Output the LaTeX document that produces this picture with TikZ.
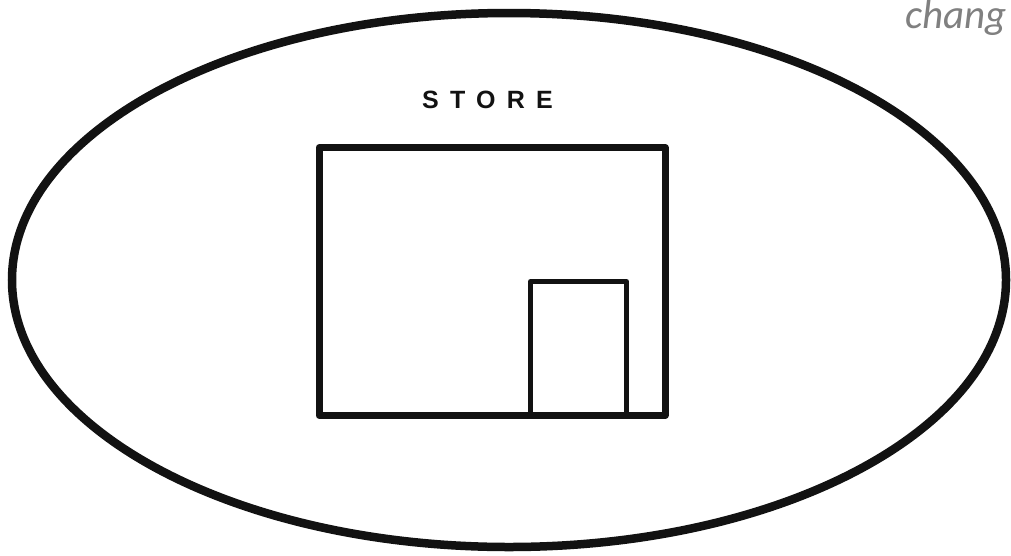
\documentclass[tikz,border=0pt]{standalone}
\usepackage{fontspec}
\setmainfont{Liberation Sans}
\newfontfamily\carlito{Carlito}
\begin{document}
\begin{tikzpicture}[x=1pt,y=-1pt,
  outline/.style={draw=black!93,line width=7pt,line join=round},
  door/.style={draw=black!93,line width=5pt,line join=round}]
\useasboundingbox (0,0) rectangle (1011,555);
\draw[draw=black!93,line width=8.5pt] (509,280) ellipse [x radius=497, y radius=267];
\node[anchor=base west,inner sep=0pt,text=black!50,font=\carlito\itshape\fontsize{41}{44}\selectfont] (chg) at (905,28) {chang};
\node[anchor=base west,inner sep=0pt,text=black!93,font=\bfseries\fontsize{25}{28}\selectfont\addfontfeature{LetterSpace=45}] (store) at (422,108) {STORE};
\draw[outline] (319,147.5) rectangle (665,415.5);
\draw[door] (530.5,415.5) |- (626.5,281.5) -- (626.5,415.5);
\end{tikzpicture}
\end{document}
